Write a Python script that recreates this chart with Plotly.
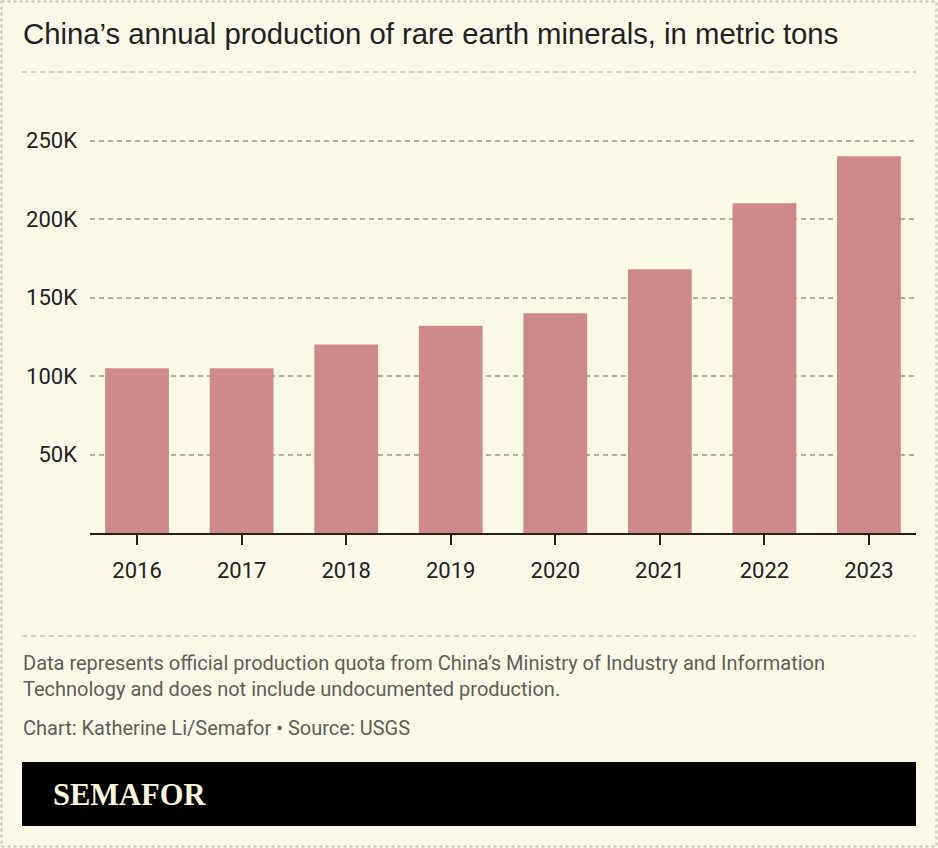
import plotly.graph_objects as go

years = ["2016", "2017", "2018", "2019", "2020", "2021", "2022", "2023"]
production = [105000, 105000, 120000, 132000, 140000, 168000, 210000, 240000]
y_tick_vals = [50000, 100000, 150000, 200000, 250000]
y_tick_text = ["50K", "100K", "150K", "200K", "250K"]

title_text = "China\u2019s annual production of rare earth minerals, in metric tons"
note_text = ("Data represents official production quota from China\u2019s Ministry of Industry and Information<br>"
             "Technology and does not include undocumented production.")
credit_text = "Chart: Katherine Li/Semafor \u2022 Source: USGS"
logo_text = "SEMAFOR"

W, H = 938, 848
L, R, T, B = 90, 22, 100, 315
PW, PH = W - L - R, H - T - B

def px(x):
    return (x - L) / PW

def py(y):
    return (H - B - y) / PH

BG = "#FCF9E8"
BAR = "#D0898A"
TXT = "#222222"
GREY = "#5F5E58"

fig = go.Figure()
fig.add_trace(go.Bar(
    x=years, y=production, marker=dict(color=BAR, line=dict(width=0)),
    hoverinfo="x+y",
))

fig.update_layout(
    width=W, height=H,
    margin=dict(l=L, r=R, t=T, b=B, pad=0),
    paper_bgcolor=BG, plot_bgcolor=BG,
    bargap=0.39,
    showlegend=False,
    font=dict(family="Roboto, sans-serif", color=TXT),
)
fig.update_xaxes(
    range=[-0.45, 7.45], showgrid=False, showline=True, linecolor="#2a1f1a", linewidth=2,
    ticks="outside", ticklen=10, tickwidth=2, tickcolor="#2a1f1a",
    tickfont=dict(family="Roboto", size=22, color=TXT), ticklabelstandoff=7,
)
fig.update_yaxes(
    range=[0, PH / 78.5 * 50000], tickvals=y_tick_vals, ticktext=y_tick_text,
    showgrid=True, gridcolor="#B3AE9F", gridwidth=1.5, griddash="5px,4px",
    zeroline=False, showline=False, ticks="",
    tickfont=dict(family="Roboto", size=22, color=TXT), ticklabelstandoff=12,
)

shapes = []
# outer dashed border
shapes.append(dict(type="rect", xref="paper", yref="paper",
                   x0=px(1.5), x1=px(936.5), y0=py(1.5), y1=py(846.5),
                   line=dict(color="#C9C6B8", width=2, dash="3px,3px"), layer="below"))
# separators
for yy in (72, 636):
    shapes.append(dict(type="line", xref="paper", yref="paper",
                       x0=px(22), x1=px(916), y0=py(yy), y1=py(yy),
                       line=dict(color="#C9C6B8", width=1.5, dash="5px,4px")))
# black logo bar
shapes.append(dict(type="rect", xref="paper", yref="paper",
                   x0=px(22), x1=px(916), y0=py(826), y1=py(762),
                   fillcolor="#000000", line=dict(width=0)))
fig.update_layout(shapes=shapes)

ann = []
ann.append(dict(text=title_text, xref="paper", yref="paper", x=px(21), y=py(33),
                xanchor="left", yanchor="middle", showarrow=False,
                font=dict(family="Liberation Sans, Arial", size=29.3, color=TXT)))
ann.append(dict(text=note_text, xref="paper", yref="paper", x=px(21), y=py(676),
                xanchor="left", yanchor="middle", showarrow=False, align="left",
                font=dict(family="Roboto", size=20, color=GREY)))
ann.append(dict(text=credit_text, xref="paper", yref="paper", x=px(21), y=py(728),
                xanchor="left", yanchor="middle", showarrow=False, align="left",
                font=dict(family="Roboto", size=20, color=GREY)))
ann.append(dict(text="<b>" + logo_text + "</b>", xref="paper", yref="paper", x=px(51), y=py(795),
                xanchor="left", yanchor="middle", showarrow=False,
                font=dict(family="Liberation Serif, Times New Roman, serif", size=30.5, color="#FBF5DC")))
fig.update_layout(annotations=ann)

fig.write_html("out.html", config={"displayModeBar": False},
               post_script="document.body.style.margin='0';document.body.style.overflow='hidden';")
